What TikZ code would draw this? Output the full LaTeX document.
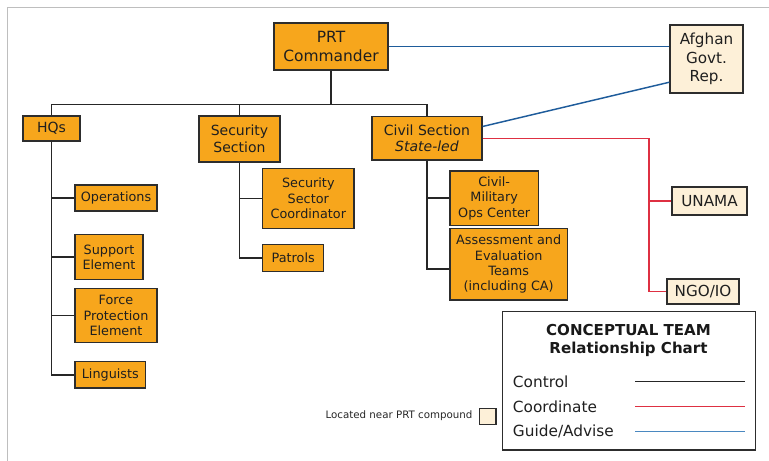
\documentclass[tikz,border=0pt]{standalone}
\usepackage{fontspec}
\setmainfont{DejaVu Sans}
\definecolor{prtorange}{RGB}{247,166,28}
\definecolor{prtcream}{RGB}{253,240,216}
\definecolor{boxline}{RGB}{45,45,45}
\definecolor{guideblue}{RGB}{30,92,155}
\definecolor{legendblue}{RGB}{74,136,192}
\definecolor{coordred}{RGB}{222,48,66}
\definecolor{framegray}{RGB}{190,190,190}
\begin{document}
\begin{tikzpicture}[x=0.75pt, y=-0.75pt,
    sz/.style 2 args={minimum width=#1*0.75pt, minimum height=#2*0.75pt},
    box/.style={draw=boxline, line width=1pt, fill=prtorange, inner sep=0pt, align=center, text=black!88},
    outside/.style={box, fill=prtcream},
    bigtxt/.style={font=\fontsize{11.6}{13.7}\selectfont},
    midtxt/.style={font=\fontsize{10.5}{12.5}\selectfont},
    smalltxt/.style={font=\fontsize{9.6}{11.5}\selectfont},
    outtxt/.style={font=\fontsize{11.4}{13.9}\selectfont},
    control/.style={draw=black!85, line width=1.1pt},
    coordinate line/.style={draw=coordred, line width=1.1pt},
    guide/.style={draw=guideblue, line width=1.1pt}]
    \useasboundingbox (0,0) rectangle (769,461);
    \draw[framegray, line width=1.1pt] (769,7.3) -- (7.3,7.3) -- (7.3,461);

    \node[box, bigtxt, sz={114}{47}](cmd) at (331,46.5) {PRT\\Commander};
    \node[box, midtxt, sz={57}{25}](hq) at (51.5,128.5) {HQs};
    \node[box, midtxt, sz={81}{46}](sec) at (239.5,139) {Security\\Section};
    \node[box, midtxt, sz={110}{43.3}](civ) at (427,138.3) {Civil Section\\\textit{State-led}};

    \node[outside, outtxt, sz={73}{68}](afg) at (706.5,59) {Afghan\\Govt.\\Rep.};
    \node[outside, outtxt, sz={75}{28}](unama) at (709.5,201) {UNAMA};
    \node[outside, outtxt, sz={72}{25}](ngo) at (703,291.5) {NGO/IO};

    \node[box, smalltxt, sz={82}{26}](ops) at (116,198) {Operations};
    \node[box, smalltxt, sz={68}{45}](sup) at (109,257.2) {Support\\Element};
    \node[box, smalltxt, sz={82}{53.6}](fpe) at (116,315.5) {Force\\Protection\\Element};
    \node[box, smalltxt, sz={70.7}{26.3}](ling) at (110.3,374.8) {Linguists};

    \node[box, smalltxt, sz={91.3}{60.3}](ssc) at (308.3,198.5) {Security\\Sector\\Coordinator};
    \node[box, smalltxt, sz={61}{27}](pat) at (293.2,258.2) {Patrols};

    \node[box, smalltxt, sz={88.3}{54.3}](cmoc) at (494.2,198.2) {Civil-\\Military\\Ops Center};
    \node[box, smalltxt, sz={117.3}{71.7}](aet) at (508.7,264.2) {Assessment and\\Evaluation\\Teams\\(including CA)};

    \coordinate (bus) at (331,104.3);
    \draw[control] (cmd.south) -- (bus);
    \draw[control] (hq.north) |- (bus) -| (civ.north);
    \draw[control] (sec.north) -- (sec.north |- bus);

    \draw[control] (hq.south) |- (ops.west);
    \draw[control] (hq.south) |- (sup.west);
    \draw[control] (hq.south) |- (fpe.west);
    \draw[control] (hq.south) |- (ling.west);

    \draw[control] (sec.south) |- (ssc.west);
    \draw[control] (sec.south) |- (pat.west);

    \draw[control] (civ.south) |- (cmoc.west);
    \draw[control] (civ.south) |- ([yshift=-3.5pt]aet.west);

    \draw[guide] (cmd.east) -- (cmd.east -| afg.west);
    \draw[guide] (civ.12.7) -- (afg.212);

    \coordinate (redturn) at (649,138.3);
    \draw[coordinate line] (civ.east) -- (redturn) |- (ngo.west);
    \draw[coordinate line] (redturn |- unama.west) -- (unama.west);

    \node[draw=boxline, line width=1pt, sz={253}{138.3}, inner sep=0pt](legend) at (628.8,380.8) {};
    \node[font=\bfseries\fontsize{11.3}{14.2}\selectfont, align=center, text=black!90](title) at (628.5,340.5) {CONCEPTUAL TEAM\\Relationship Chart};
    \node[anchor=west, inner sep=0pt, font=\fontsize{11.5}{13}\selectfont, text=black!88](lcontrol) at (512.7,381.7) {Control};
    \node[anchor=west, inner sep=0pt, font=\fontsize{11.5}{13}\selectfont, text=black!88](lcoord) at (512.7,406.3) {Coordinate};
    \node[anchor=west, inner sep=0pt, font=\fontsize{11.5}{13}\selectfont, text=black!88](lguide) at (512.7,431.5) {Guide/Advise};
    \coordinate (kcontrol) at (744.7,381.7);
    \coordinate (kcoord) at (744.7,406.3);
    \coordinate (kguide) at (744.7,431.5);
    \draw[control] (lcontrol.east -| 635,0) -- (kcontrol);
    \draw[coordinate line] (lcoord.east -| 635,0) -- (kcoord);
    \draw[draw=legendblue, line width=1.4pt] (lguide.east -| 635,0) -- (kguide);

    \node[outside, sz={16.7}{16}](key) at (487.7,416.3) {};
    \node[anchor=east, inner sep=0pt, font=\fontsize{7.7}{9}\selectfont, text=black!85](keytxt) at (472.7,416) {Located near PRT compound};
\end{tikzpicture}
\end{document}
